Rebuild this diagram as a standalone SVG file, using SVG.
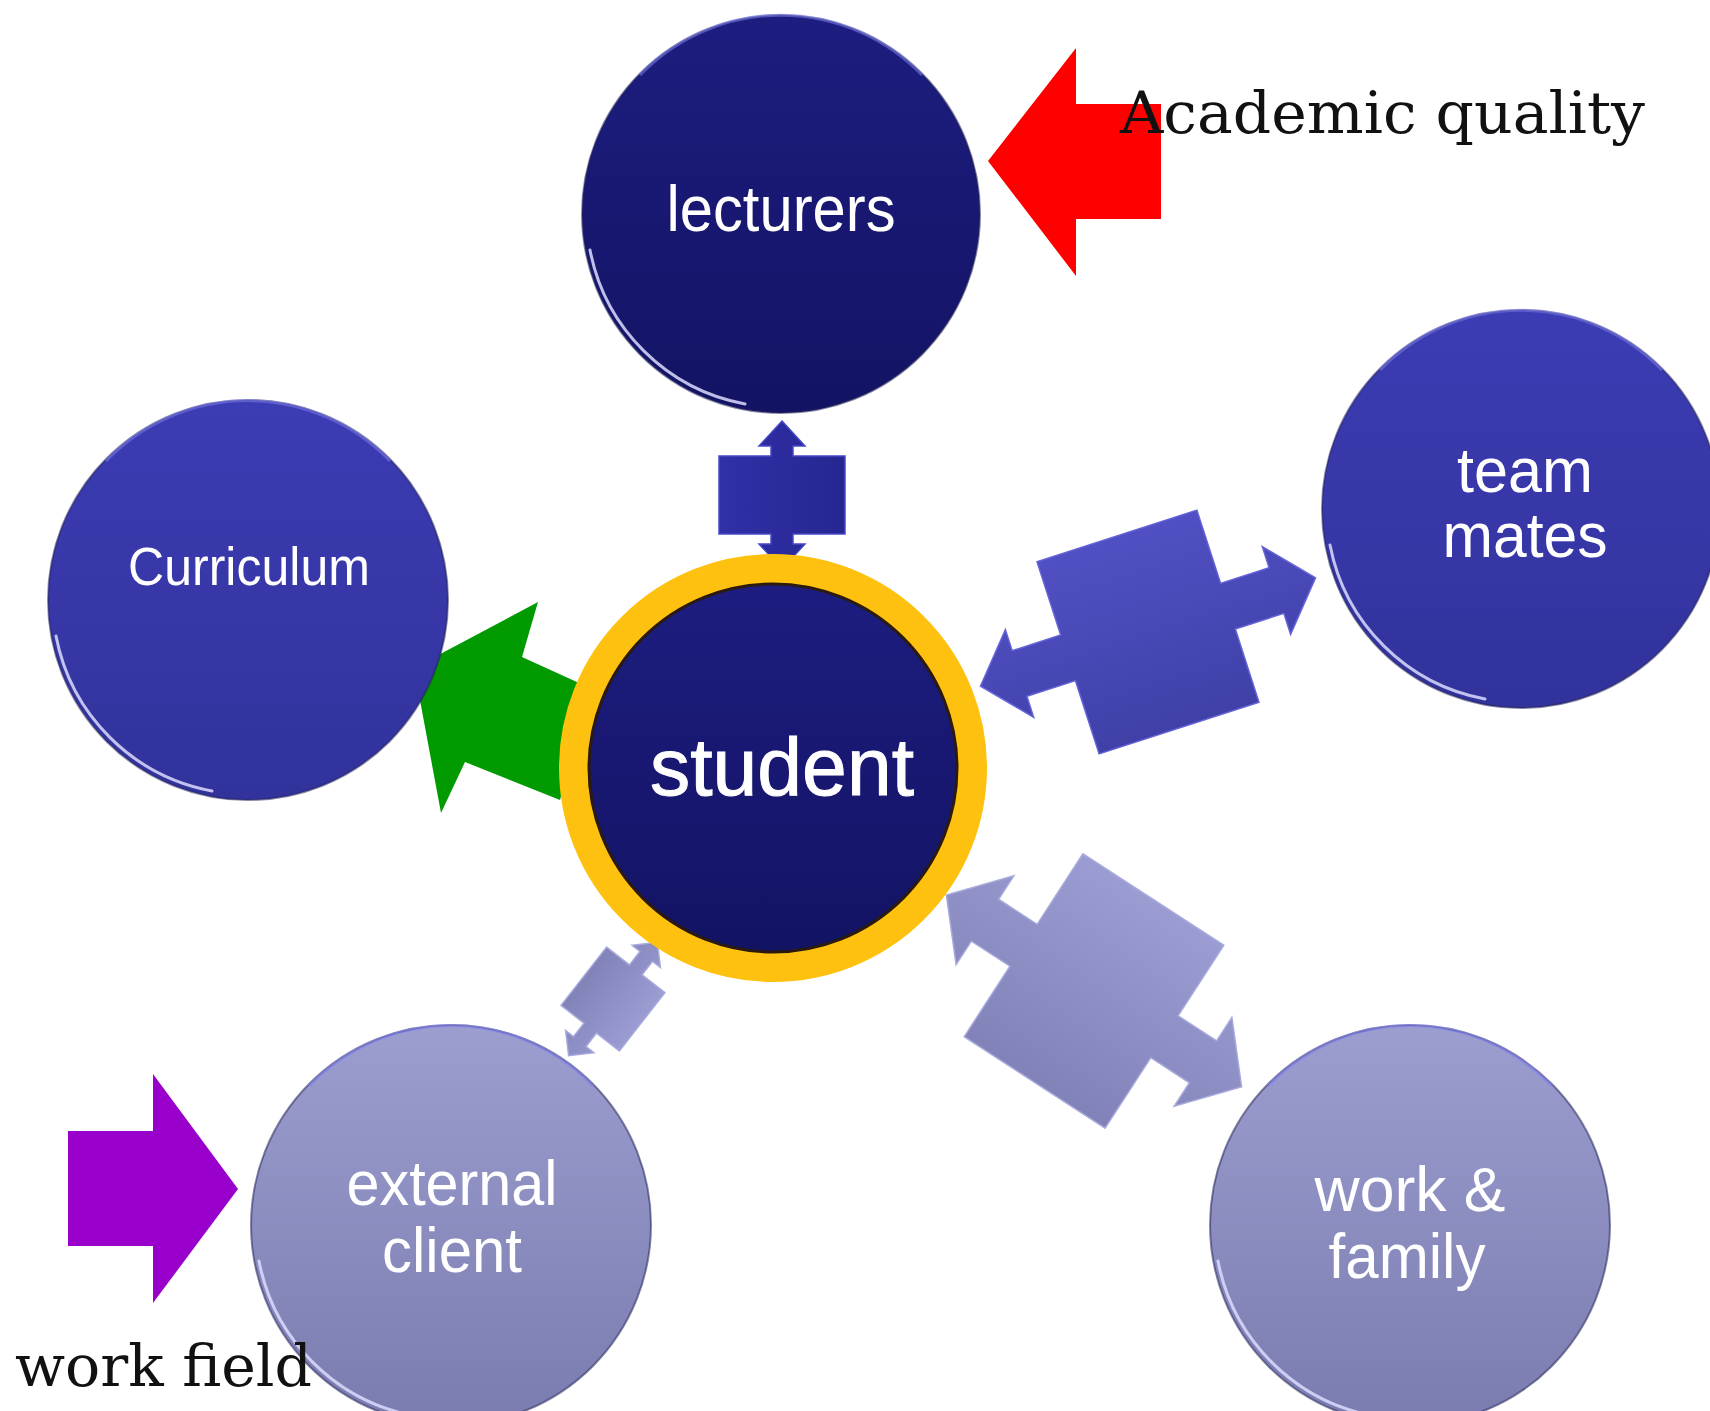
<svg xmlns="http://www.w3.org/2000/svg" width="1710" height="1411" viewBox="0 0 1710 1411">
  <defs>
    <linearGradient id="gDark" x1="0" y1="0" x2="0" y2="1">
      <stop offset="0" stop-color="#1d1d80"/>
      <stop offset="1" stop-color="#131364"/>
    </linearGradient>
    <linearGradient id="gMid" x1="0" y1="0" x2="0" y2="1">
      <stop offset="0" stop-color="#3c3cb4"/>
      <stop offset="1" stop-color="#32329c"/>
    </linearGradient>
    <linearGradient id="gLight" x1="0" y1="0" x2="0" y2="1">
      <stop offset="0" stop-color="#9c9ed0"/>
      <stop offset="1" stop-color="#7a7caf"/>
    </linearGradient>
    <linearGradient id="gConnDark" x1="0" y1="0" x2="0" y2="1">
      <stop offset="0" stop-color="#3030a8"/>
      <stop offset="1" stop-color="#262692"/>
    </linearGradient>
    <linearGradient id="gConnMid" x1="0" y1="0" x2="0" y2="1">
      <stop offset="0" stop-color="#5050c4"/>
      <stop offset="1" stop-color="#4040a8"/>
    </linearGradient>
    <linearGradient id="gConnLight" x1="0" y1="0" x2="0" y2="1">
      <stop offset="0" stop-color="#9a9cd2"/>
      <stop offset="1" stop-color="#8082b8"/>
    </linearGradient>
    <style>
      .rim { fill: none; stroke: #24245a; stroke-width: 2; stroke-opacity: .55; }
      .rimTop { fill: none; stroke: #8080f0; stroke-width: 3; stroke-opacity: .55; }
      .shine { fill: none; stroke: #dcdcff; stroke-width: 3; stroke-linecap: round; stroke-opacity: .85; }
      .label { font-family: "Liberation Sans", Arial, sans-serif; fill: #ffffff; text-anchor: middle; }
      .note { font-family: "DejaVu Serif", "Liberation Serif", serif; fill: #111111; }
      .conn { stroke-linejoin: miter; }
    </style>
  </defs>

  <rect width="1710" height="1411" fill="#ffffff"/>

  <!-- outside influences -->
  <g id="academic-arrow">
    <polygon points="988,161 1076,48 1076,104 1161,104 1161,219 1076,219 1076,276" fill="#ff0000"/>
  </g>
  <g id="workfield-arrow">
    <polygon points="238,1189 153,1074 153,1131 68,1131 68,1246 153,1246 153,1303" fill="#9900cc"/>
  </g>
  <g id="curriculum-arrow">
    <polygon points="414,668 538,602 522,657 590,688 560,800 465,762 441,813" fill="#019a01"/>
  </g>

  <!-- connectors between the student and the surrounding circles -->
  <g id="connectors">
    <polygon class="conn" fill="url(#gConnDark)" stroke="#4848c8" stroke-width="1.5"
      transform="translate(782,495) rotate(-90)"
      points="74,0 49,23 49,11 39,11 39,63 -39,63 -39,11 -49,11 -49,23 -74,0 -49,-23 -49,-11 -39,-11 -39,-63 39,-63 39,-11 49,-11 49,-23"/>
    <polygon class="conn" fill="url(#gConnMid)" stroke="#6464d8" stroke-width="1.5"
      transform="translate(1148,632) rotate(-17.9)"
      points="176,0 135,46 135,24 84,24 84,101 -84,101 -84,24 -135,24 -135,46 -176,0 -135,-46 -135,-24 -84,-24 -84,-101 84,-101 84,-24 135,-24 135,-46"/>
    <polygon class="conn" fill="url(#gConnLight)" stroke="#a8aadc" stroke-width="1.5"
      transform="translate(1094,991) rotate(33)"
      points="176,0 130,53 130,25 84,25 84,109 -84,109 -84,25 -130,25 -130,53 -176,0 -130,-53 -130,-25 -84,-25 -84,-109 84,-109 84,-25 130,-25 130,-53"/>
    <polygon class="conn" fill="url(#gConnLight)" stroke="#a8aadc" stroke-width="1.5"
      transform="translate(613,999) rotate(128)"
      points="72,0 54,18 54,8 37,8 37,37 -37,37 -37,8 -54,8 -54,18 -72,0 -54,-18 -54,-8 -37,-8 -37,-37 37,-37 37,-8 54,-8 54,-18"/>
  </g>

  <g id="lecturers">
    <circle cx="781" cy="214" r="199" fill="url(#gDark)"/>
    <circle class="rim" cx="781" cy="214" r="199"/>
    <path class="rimTop" d="M 640 75 A 196 196 0 0 1 922 75"/>
    <path class="shine" d="M 590 250 A 194 194 0 0 0 745 404"/>
    <text class="label" x="781" y="231" font-size="64" textLength="229" lengthAdjust="spacingAndGlyphs">lecturers</text>
  </g>

  <g id="curriculum">
    <circle cx="248" cy="600" r="200" fill="url(#gMid)"/>
    <circle class="rim" cx="248" cy="600" r="200"/>
    <path class="rimTop" d="M 106 461 A 197 197 0 0 1 390 461"/>
    <path class="shine" d="M 56 636 A 195 195 0 0 0 212 791"/>
    <text class="label" x="249" y="585" font-size="54" textLength="242" lengthAdjust="spacingAndGlyphs">Curriculum</text>
  </g>

  <g id="team-mates">
    <circle cx="1521" cy="509" r="199" fill="url(#gMid)"/>
    <circle class="rim" cx="1521" cy="509" r="199"/>
    <path class="rimTop" d="M 1380 370 A 196 196 0 0 1 1662 370"/>
    <path class="shine" d="M 1330 545 A 194 194 0 0 0 1485 699"/>
    <text class="label" x="1525" y="492" font-size="63" textLength="136" lengthAdjust="spacingAndGlyphs">team</text>
    <text class="label" x="1525" y="557" font-size="63" textLength="165" lengthAdjust="spacingAndGlyphs">mates</text>
  </g>

  <g id="external-client">
    <circle cx="451" cy="1225" r="200" fill="url(#gLight)"/>
    <circle class="rim" cx="451" cy="1225" r="200" stroke-opacity=".35"/>
    <path class="rimTop" d="M 309 1086 A 197 197 0 0 1 593 1086" stroke="#c8c8f4"/>
    <path class="shine" d="M 259 1261 A 195 195 0 0 0 415 1416"/>
    <text class="label" x="452" y="1205" font-size="63" fill="#eeeefc" textLength="211" lengthAdjust="spacingAndGlyphs">external</text>
    <text class="label" x="452" y="1272" font-size="63" fill="#eeeefc" textLength="140" lengthAdjust="spacingAndGlyphs">client</text>
  </g>

  <g id="work-family">
    <circle cx="1410" cy="1225" r="200" fill="url(#gLight)"/>
    <circle class="rim" cx="1410" cy="1225" r="200" stroke-opacity=".35"/>
    <path class="rimTop" d="M 1268 1086 A 197 197 0 0 1 1552 1086" stroke="#c8c8f4"/>
    <path class="shine" d="M 1218 1261 A 195 195 0 0 0 1374 1416"/>
    <text class="label" x="1410" y="1211" font-size="63" fill="#eeeefc" textLength="191" lengthAdjust="spacingAndGlyphs">work &amp;</text>
    <text class="label" x="1407" y="1278" font-size="63" fill="#eeeefc" textLength="157" lengthAdjust="spacingAndGlyphs">family</text>
  </g>

  <g id="student">
    <circle cx="773" cy="768" r="199" fill="none" stroke="#fec10f" stroke-width="30"/>
    <circle cx="773" cy="768" r="184" fill="url(#gDark)" stroke="#2a1a10" stroke-width="3"/>
    <text class="label" x="782" y="795" font-size="81" textLength="264" lengthAdjust="spacingAndGlyphs" stroke="#ffffff" stroke-width="1">student</text>
  </g>

  <g id="notes">
    <text class="note" x="1120" y="133" font-size="58" textLength="525" lengthAdjust="spacingAndGlyphs">Academic quality</text>
    <text class="note" x="15" y="1386" font-size="57" textLength="297" lengthAdjust="spacingAndGlyphs">work field</text>
  </g>
</svg>
